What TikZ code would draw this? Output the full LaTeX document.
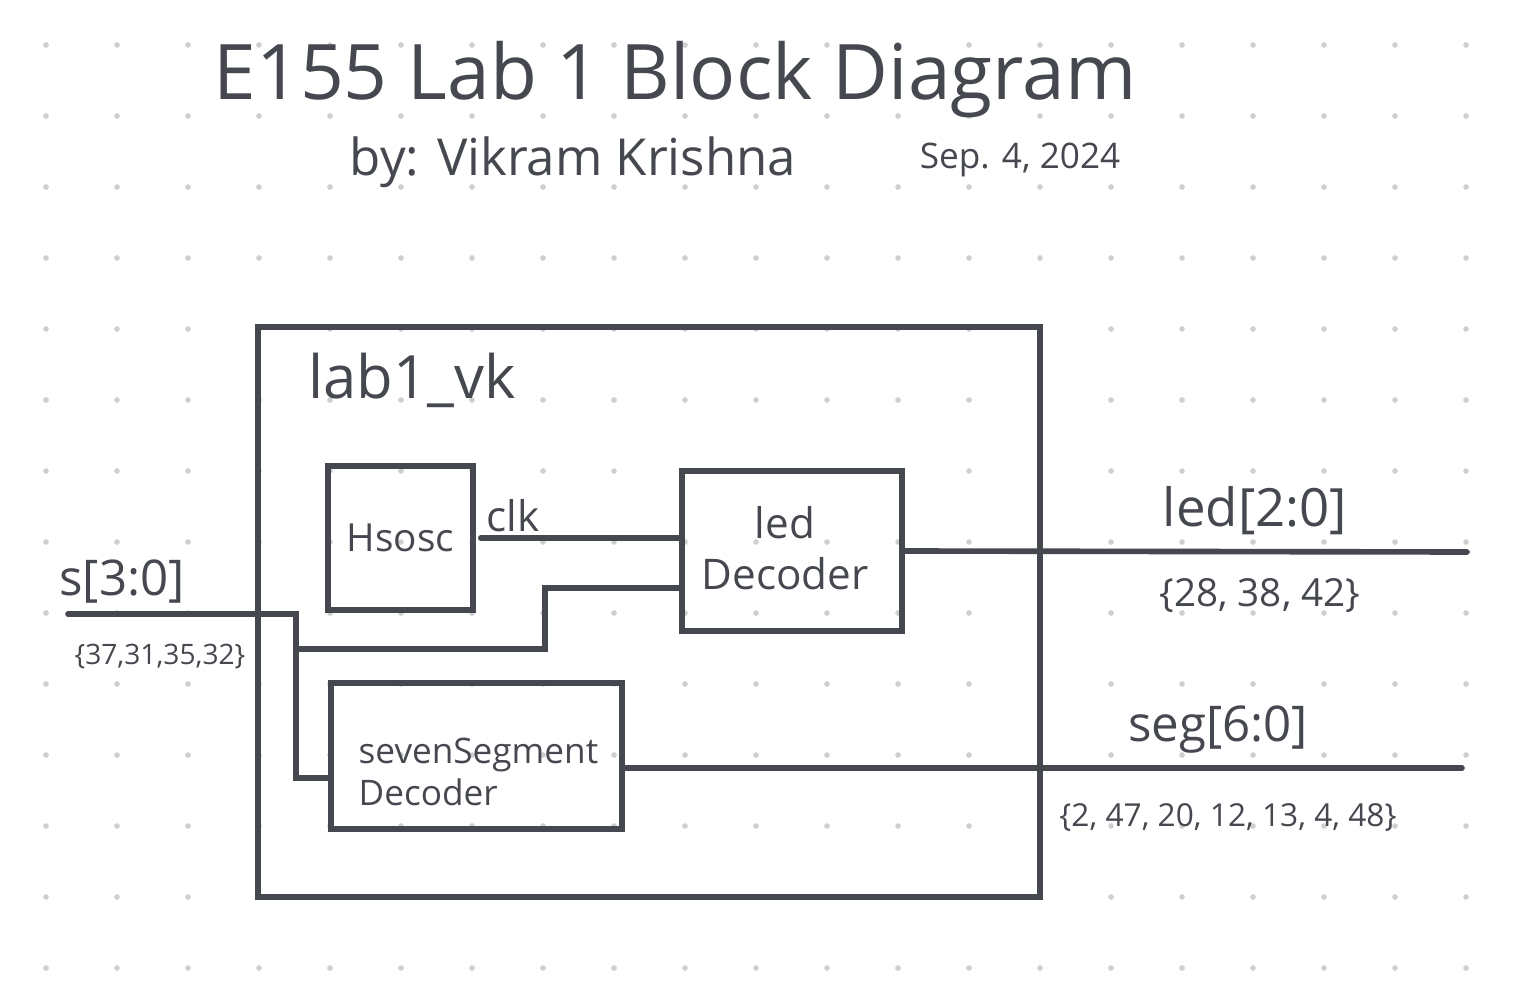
\documentclass[tikz,border=0pt]{standalone}
\usepackage{fontspec}
\setmainfont{Open Sans}
\usepackage{tikz}
\definecolor{ink}{HTML}{46484F}
\definecolor{dotgray}{HTML}{CFCFCF}
\newcommand{\fsz}[1]{\fontsize{#1}{1.2\dimexpr#1\relax}\selectfont}

\begin{document}
\begin{tikzpicture}[x=0.01cm,y=-0.01cm,
  wire/.style={ink,line width=1.6pt,line cap=round},
  block/.style={draw=ink,line width=1.6pt,inner sep=0pt},
  ink text/.style={text=ink,inner sep=0pt}]
\useasboundingbox (0,0) rectangle (1535,1000);
% dotted paper
\foreach \i in {0,...,20}
  \foreach \j in {0,...,13}
    \fill[dotgray] (46+71*\i,45+71*\j) circle (0.8pt);
% heading
\node[ink text,font=\fsz{21.8pt}] (title) at (675,80) {E155 Lab 1 Block Diagram};
\node[ink text,font=\fsz{14.5pt}] (author) at (573,162) {by: Vikram Krishna};
\node[ink text,font=\fsz{10pt}] (date) at (1020,160) {Sep. 4, 2024};
% top module
\node[block,minimum width=7.82cm,minimum height=5.70cm] (top) at (649,612) {};
\node[ink text,font=\fsz{17pt}] (topname) at (412,380) {lab1\_vk};
\node[block,minimum width=1.45cm,minimum height=1.44cm] (osc) at (400.5,538) {};
\node[ink text,font=\fsz{11pt}] (oscname) at (osc) {Hsosc};
\node[block,minimum width=2.20cm,minimum height=1.60cm] (ledDec) at (792,551) {};
\node[ink text,font=\fsz{12pt},align=center] (ledname) at (785,548) {led\\Decoder};
\node[block,minimum width=2.91cm,minimum height=1.46cm] (segDec) at (476.5,756) {};
\node[ink text,font=\fsz{10pt},align=left,anchor=west] (segname) at (358,772) {sevenSegment\\Decoder};
% wires
\coordinate (sIn) at (68,614);
\coordinate (sTurn) at (296,614);
\coordinate (ledOut) at (1467,552);
\coordinate (segOut) at (1462,768);
\draw[wire,shorten <=1.4pt] (osc.east) -- (osc.east -| ledDec.west);
\node[ink text,font=\fsz{12pt}] (clk) at (513,516) {clk};
\draw[wire] (sIn) -- (sTurn) |- (segDec.west |- 0,778);
\draw[wire] (sTurn |- 0,649) -- (545,649) |- (ledDec.west |- 0,588);
\draw[wire] (ledDec.east) -- (ledOut);
\draw[wire] (segDec.east |- segOut) -- (segOut);
% pin labels
\node[ink text,font=\fsz{14pt}] (sname) at (122,582) {s[3:0]};
\node[ink text,font=\fsz{8pt}] (spins) at (160,657) {\{37,31,35,32\}};
\node[ink text,font=\fsz{15pt}] (ledpin) at (1255,511) {led[2:0]};
\node[ink text,font=\fsz{11pt}] (ledpins) at (1260,596) {\{28, 38, 42\}};
\node[ink text,font=\fsz{14pt}] (segpin) at (1218,730) {seg[6:0]};
\node[ink text,font=\fsz{9pt}] (segpins) at (1228,818) {\{2, 47, 20, 12, 13, 4, 48\}};
\end{tikzpicture}
\end{document}
